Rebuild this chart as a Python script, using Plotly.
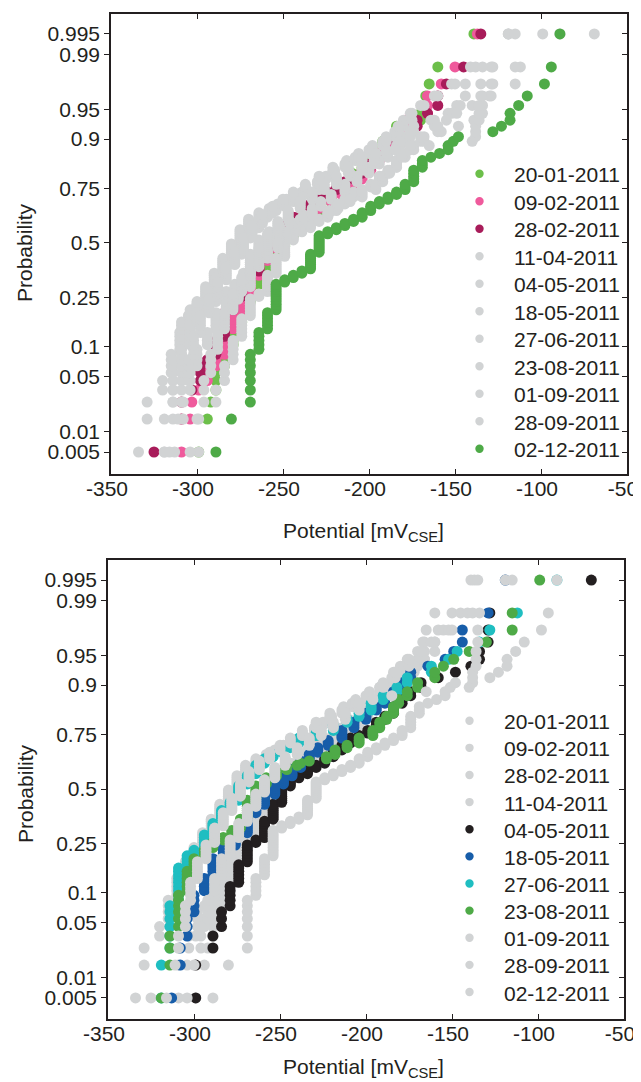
import numpy as np
import plotly.graph_objects as go
from statistics import NormalDist

# ---------------- data (potentials in mV_CSE, sorted, run-length encoded) ----------------
dates = ["20-01-2011", "09-02-2011", "28-02-2011", "11-04-2011", "04-05-2011", "18-05-2011",
         "27-06-2011", "23-08-2011", "01-09-2011", "28-09-2011", "02-12-2011"]

pot_2001 = [-299, -294, -292, -289, -284, -279, -274, -269, -264, -259, -254, -249, -244, -239, -234,
            -228, -222, -216, -210, -204, -198, -192, -184, -170, -167, -165, -160, -139]
cnt_2001 = [1, 1, 1, 3, 4, 6, 7, 7, 7, 6, 5, 5, 4, 4, 4, 4, 4, 4, 4, 3, 3, 3, 3, 2, 2, 1, 1, 1]

pot_0902 = [-309, -304, -303, -299, -294, -289, -284, -279, -274, -269, -264, -259, -254, -249, -244,
            -238, -229, -222, -216, -210, -204, -199, -194, -190, -184, -179, -166, -158, -150, -137]
cnt_0902 = [1, 1, 1, 1, 2, 2, 6, 6, 7, 7, 7, 6, 6, 5, 5, 3, 3, 3, 3, 3, 3, 3, 3, 3, 2, 2, 3, 1, 1, 1]

pot_2802 = [-325, -309, -303, -298, -294, -289, -284, -279, -274, -269, -264, -259, -254, -249, -244,
            -239, -234, -229, -224, -219, -214, -209, -204, -199, -195, -190, -184, -172, -166, -160,
            -155, -145, -135]
cnt_2802 = [1, 2, 1, 3, 1, 4, 8, 5, 5, 6, 6, 6, 6, 5, 4, 3, 3, 3, 2, 2, 2, 2, 2, 2, 2, 2, 4, 2, 1, 2,
            1, 1, 1]

pot_1104 = [-334, -329, -320, -315, -310, -305, -300, -295, -290, -285, -280, -275, -270, -264, -258,
            -253, -248, -243, -237, -230, -225, -220, -214, -208, -200, -192, -185, -180, -176, -170,
            -162, -152, -141, -119]
cnt_1104 = [1, 2, 2, 4, 5, 5, 5, 6, 6, 7, 7, 7, 5, 3, 2, 2, 2, 2, 3, 2, 2, 2, 2, 2, 2, 2, 2, 2, 1, 1,
            1, 1, 1, 1]

pot_0405 = [-299, -289, -284, -279, -274, -269, -264, -259, -254, -249, -244, -239, -234, -229, -224,
            -219, -214, -209, -204, -199, -194, -189, -184, -179, -174, -168, -158, -148, -139, -134,
            -129, -128, -69]
cnt_0405 = [2, 2, 3, 5, 6, 7, 2, 8, 8, 8, 4, 2, 3, 2, 3, 3, 3, 3, 1, 2, 3, 2, 3, 2, 2, 2, 1, 1, 1, 2,
            2, 1, 1]

pot_1805 = [-313, -308, -304, -300, -294, -289, -283, -276, -269, -264, -259, -253, -248, -243, -238,
            -233, -228, -222, -214, -207, -200, -194, -189, -184, -179, -174, -164, -154, -149, -144,
            -129, -119]
cnt_1805 = [1, 2, 3, 4, 4, 6, 4, 5, 9, 4, 5, 5, 4, 4, 4, 3, 3, 3, 4, 3, 3, 2, 2, 2, 2, 2, 1, 1, 1, 2,
            1, 1]

pot_2706 = [-319, -314, -309, -304, -300, -294, -289, -284, -279, -274, -269, -264, -259, -254, -249,
            -244, -239, -229, -219, -211, -204, -197, -190, -182, -176, -162, -152, -147, -134, -128,
            -112, -89]
cnt_2706 = [2, 6, 9, 4, 2, 6, 5, 6, 4, 8, 5, 5, 3, 2, 2, 2, 3, 2, 3, 2, 2, 3, 2, 2, 2, 2, 1, 1, 1, 1,
            1, 1]

pot_2308 = [-319, -314, -309, -304, -300, -294, -289, -283, -278, -273, -269, -264, -258, -252, -246,
            -240, -238, -233, -223, -218, -211, -204, -196, -192, -188, -184, -181, -176, -170, -160,
            -155, -149, -140, -130, -115, -99]
cnt_2308 = [1, 3, 6, 6, 4, 3, 3, 2, 3, 5, 9, 7, 4, 3, 2, 1, 1, 1, 2, 3, 2, 3, 3, 3, 2, 3, 2, 2, 2, 2,
            1, 1, 1, 1, 2, 1]

pot_0109 = [-316, -311, -309, -305, -302, -298, -293, -288, -283, -278, -273, -268, -262, -256, -250,
            -244, -237, -229, -221, -213, -206, -198, -190, -183, -175, -168, -160, -150, -138, -119]
cnt_0109 = [1, 1, 2, 4, 5, 6, 6, 7, 7, 7, 7, 6, 5, 4, 3, 3, 3, 3, 3, 2, 2, 2, 2, 2, 2, 1, 1, 1, 1, 1]

pot_2809 = [-304, -300, -296, -292, -288, -284, -279, -274, -269, -264, -259, -253, -247, -240, -233,
            -226, -219, -212, -204, -196, -185, -165, -140, -138, -136, -135, -134, -115]
cnt_2809 = [1, 1, 3, 4, 5, 6, 7, 7, 7, 7, 7, 6, 5, 4, 4, 3, 3, 3, 3, 1, 1, 1, 1, 3, 3, 2, 1, 1]

pot_0212 = [-289, -280, -269, -264, -259, -254, -249, -244, -239, -234, -229, -224, -219, -214, -209,
            -204, -199, -194, -189, -184, -179, -174, -169, -164, -159, -154, -151, -148, -128, -123,
            -118, -113, -108, -98, -94, -89]
cnt_0212 = [1, 1, 7, 5, 6, 11, 2, 2, 2, 8, 9, 2, 2, 2, 2, 3, 3, 2, 2, 2, 3, 5, 3, 1, 1, 2, 1, 1, 1, 1,
            2, 1, 1, 1, 1, 1]

prob_ticks = [0.005, 0.01, 0.05, 0.1, 0.25, 0.5, 0.75, 0.9, 0.95, 0.99, 0.995]
prob_labels = ["0.005", "0.01", "0.05", "0.1", "0.25", "0.5", "0.75", "0.9", "0.95", "0.99", "0.995"]
x_ticks = [-350, -300, -250, -200, -150, -100, -50]
x_labels = ["-350", "-300", "-250", "-200", "-150", "-100", "-50"]

pots = [pot_2001, pot_0902, pot_2802, pot_1104, pot_0405, pot_1805, pot_2706, pot_2308,
        pot_0109, pot_2809, pot_0212]
cnts = [cnt_2001, cnt_0902, cnt_2802, cnt_1104, cnt_0405, cnt_1805, cnt_2706, cnt_2308,
        cnt_0109, cnt_2809, cnt_0212]

# ---------------- style ----------------
GREY = "#d1d3d4"
TXT = "#231f20"
FONT = "Liberation Sans, Arial, sans-serif"
top_colors = {0: "#6cbf4a", 1: "#ef5a9c", 2: "#a81c5a", 10: "#4eaa47"}
bot_colors = {4: "#231f20", 5: "#175da9", 6: "#1fbec1", 7: "#4eaa47"}

W, H = 641, 1082
nd = NormalDist()
tickvals = [nd.inv_cdf(p) for p in prob_ticks]


def px_x(a, b):
    return [a / W, b / W]


def px_y(top, bottom):
    return [1 - bottom / H, 1 - top / H]


fig = go.Figure()

panels = [
    dict(xa="x", ya="y", colors=top_colors,
         leg_x=471.5, leg_tx=504, leg_y0=165.7, leg_dy=27.5),
    dict(xa="x2", ya="y2", colors=bot_colors,
         leg_x=461.5, leg_tx=494, leg_y0=712.7, leg_dy=27.13),
]

shapes = []
annotations = []
for pn in panels:
    for k, d in enumerate(dates):
        vals = np.repeat(np.array(pots[k], dtype=float), cnts[k])
        n = len(vals)
        z = [nd.inv_cdf((i + 0.5) / n) for i in range(n)]
        fig.add_trace(go.Scatter(
            x=vals, y=z, mode="markers", xaxis=pn["xa"], yaxis=pn["ya"], name=d,
            marker=dict(size=11, color=pn["colors"].get(k, GREY), line=dict(width=0)),
            showlegend=False, hoverinfo="skip"))
    # legend (drawn by hand so its spacing matches the original)
    for k, d in enumerate(dates):
        cy = pn["leg_y0"] + k * pn["leg_dy"]
        r = 4.2
        shapes.append(dict(type="circle", xref="paper", yref="paper",
                           x0=(pn["leg_x"] - r) / W, x1=(pn["leg_x"] + r) / W,
                           y0=1 - (cy + r) / H, y1=1 - (cy - r) / H,
                           fillcolor=pn["colors"].get(k, GREY), line=dict(width=0)))
        annotations.append(dict(text=d, x=pn["leg_tx"] / W, y=1 - (cy + 1) / H, xref="paper", yref="paper",
                                showarrow=False, xanchor="left", yanchor="middle",
                                font=dict(family=FONT, size=21, color=TXT)))

# dummy traces for the right-hand tick axes
fig.add_trace(go.Scatter(x=[None], y=[None], xaxis="x", yaxis="y3", showlegend=False))
fig.add_trace(go.Scatter(x=[None], y=[None], xaxis="x2", yaxis="y4", showlegend=False))

tickfont = dict(family=FONT, size=21, color=TXT)
xcommon = dict(range=[-350, -50], tickvals=x_ticks, ticktext=x_labels, ticks="inside", ticklen=5,
               tickwidth=1.2, tickcolor=TXT, showline=True, linecolor=TXT, linewidth=1.6,
               mirror="ticks", showgrid=False, zeroline=False, tickfont=tickfont, automargin=False,
               ticklabelshift=-4, ticklabelstandoff=-5)
ycommon = dict(tickvals=tickvals, ticktext=prob_labels, ticks="outside", ticklen=5, tickwidth=1.2,
               tickcolor=TXT, showline=True, linecolor=TXT, linewidth=1.6, mirror=True,
               showgrid=False, zeroline=False, tickfont=tickfont, automargin=False)
yright = dict(tickvals=tickvals, showticklabels=False, ticks="inside", ticklen=5, tickwidth=1.2,
              tickcolor=TXT, showline=False, showgrid=False, zeroline=False, side="right",
              automargin=False)

top_yrange = [-2.847, 2.822]
bot_yrange = [-2.835, 2.823]

for txt_y in (245, 786):
    annotations.append(dict(text="Probability", textangle=-90, x=17 / W, y=1 - txt_y / H,
                            xref="paper", yref="paper", showarrow=False, xanchor="center",
                            yanchor="middle", font=dict(family=FONT, size=21, color=TXT)))
for txt_y in (524, 1060):
    annotations.append(dict(text="Potential [mV<sub>CSE</sub>]", x=355 / W, y=1 - txt_y / H,
                            xref="paper", yref="paper", showarrow=False, xanchor="center",
                            yanchor="middle", font=dict(family=FONT, size=21, color=TXT)))

fig.update_layout(
    width=W, height=H, margin=dict(l=0, r=0, t=0, b=0, autoexpand=False),
    paper_bgcolor="white", plot_bgcolor="white", showlegend=False,
    font=dict(family=FONT, size=21, color=TXT),
    xaxis=dict(domain=px_x(103, 619), anchor="y", **xcommon),
    yaxis=dict(domain=px_y(6, 466), anchor="x", range=top_yrange, **ycommon),
    yaxis3=dict(overlaying="y", anchor="x", range=top_yrange, **yright),
    xaxis2=dict(domain=px_x(100, 616), anchor="y2", **xcommon),
    yaxis2=dict(domain=px_y(552, 1011), anchor="x2", range=bot_yrange, **ycommon),
    yaxis4=dict(overlaying="y2", anchor="x2", range=bot_yrange, **yright),
    shapes=shapes,
    annotations=annotations,
)

fig.write_html("out.html")
